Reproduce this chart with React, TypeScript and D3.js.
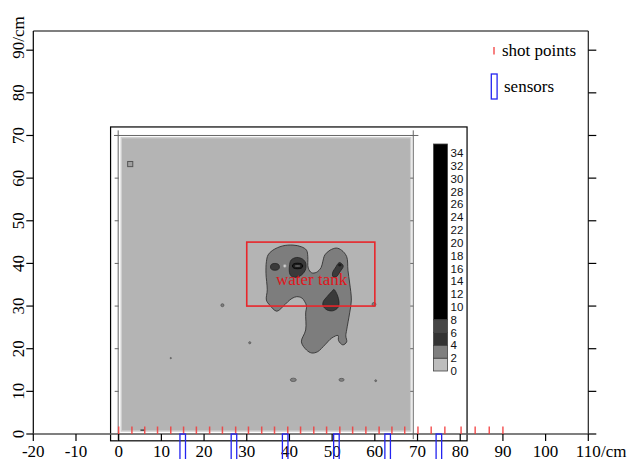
import React from 'react';
import * as d3 from 'd3';

// ---- axis ticks ----
const X_TICKS = [-20, -10, 0, 10, 20, 30, 40, 50, 60, 70, 80, 90, 100, 110];
const Y_TICKS = [0, 10, 20, 30, 40, 50, 60, 70, 80, 90];
const INNER_Y_TICKS = [10, 20, 30, 40, 50, 60, 70];

// ---- survey layout (cm) ----
const SHOT_POINTS = [
  0, 3.1, 6.1, 9.1, 12.2, 15.2, 18.2, 21.3, 24.3, 27.4, 30.4, 33.5, 36.5, 39.6, 42.6,
  45.7, 48.7, 51.8, 54.8, 57.9, 61.0, 64.0, 67.0, 70.1, 73.2, 76.4, 80.2, 83.5, 86.8, 90.0,
];
const SENSORS = [15, 27, 39, 51, 63, 75];
const TANK_X = [30, 60];
const TANK_Y = [30, 45];

// ---- colour bar levels ----
const LEVELS = [0, 2, 4, 6, 8, 35.4];
const LEVEL_COLORS = ['#bdbdbd', '#7f7f7f', '#333333', '#464646', '#000000'];
const COLORBAR_TICKS = [0, 2, 4, 6, 8, 10, 12, 14, 16, 18, 20, 22, 24, 26, 28, 30, 32, 34];

// ---- contour outlines (cm) ----
// level 2 region: the anomaly around the tank
const ANOMALY: [number, number][] = [
  [35.0, 42.0], [34.6, 40.4], [34.5, 37.7], [34.8, 33.8], [34.6, 31.4], [35.4, 30.2],
  [37.0, 28.8], [38.4, 29.8], [39.6, 31.0], [40.6, 31.8], [41.7, 32.2], [42.9, 31.9],
  [43.6, 31.0], [44.0, 30.0], [43.8, 28.4], [43.8, 24.4], [42.8, 21.6], [44.0, 19.7],
  [45.2, 19.0], [46.6, 19.3], [48.3, 20.9], [49.9, 22.5], [51.4, 23.1], [51.5, 21.9],
  [52.5, 20.9], [53.4, 21.6], [53.2, 23.0], [53.4, 24.4], [54.1, 28.4], [54.5, 31.4],
  [54.1, 35.4], [53.7, 38.4], [53.4, 41.6], [52.2, 43.1], [51.0, 43.6], [49.5, 43.1],
  [48.3, 42.0], [47.8, 40.4], [47.4, 39.0], [46.3, 37.9], [45.2, 37.8], [44.4, 38.9],
  [44.3, 41.6], [44.0, 43.1], [42.8, 43.9], [40.8, 44.3], [38.4, 44.1], [36.1, 43.1],
];
// level 4 regions
const CORE_CENTER: [number, number][] = [
  [41.7, 41.4], [43.1, 41.0], [43.8, 40.1], [43.7, 38.4], [42.4, 37.0], [40.8, 36.8],
  [40.1, 37.5], [40.0, 39.4], [40.4, 40.8],
];
const CORE_RIGHT: [number, number][] = [
  [51.8, 40.2], [52.6, 39.4], [51.8, 38.0], [51.0, 36.9], [50.2, 36.9], [50.1, 37.8],
  [50.9, 39.2], [51.4, 40.0],
];
const CORE_DROP: [number, number][] = [
  [50.4, 33.9], [51.2, 32.6], [51.6, 31.0], [51.4, 29.7], [50.2, 28.9], [48.8, 29.1],
  [47.9, 30.0], [47.9, 31.0], [48.8, 32.2], [49.9, 33.4],
];
// small closed contours: [x, y, rx, ry] in cm
const CORE_LEFT = [36.6, 39.2, 1.05, 0.8];
const SPECKLES: number[][] = [
  [24.3, 30.2, 0.35, 0.35],
  [30.7, 21.4, 0.25, 0.25],
  [40.9, 12.7, 0.7, 0.4],
  [52.2, 12.7, 0.6, 0.35],
  [60.2, 12.5, 0.22, 0.22],
  [59.8, 30.4, 0.45, 0.45],
  [12.2, 17.8, 0.15, 0.15],
];

// ---- scales ----
const x = d3.scaleLinear().domain([-20, 110]).range([33.3, 588.3]);
const y = d3.scaleLinear().domain([0, 94.5]).range([434, 31]);
const cb = d3.scaleLinear().domain([0, 35.4]).range([371, 144]);
const k = x(1) - x(0);

const SERIF = "'Liberation Serif', 'Times New Roman', Times, serif";
const SANS = "'Liberation Sans', Arial, Helvetica, sans-serif";

const outline = d3
  .line<[number, number]>()
  .x((d) => x(d[0]))
  .y((d) => y(d[1]))
  .curve(d3.curveCatmullRomClosed.alpha(0.5));

export default function App() {
  const fs = 17;
  return (
    <svg
      width={632}
      height={459}
      style={{ position: 'absolute', left: 0, top: 0, background: '#fff' }}
      fontFamily={SERIF}
    >
      {/* outer frame */}
      <line x1={x(-20)} x2={x(-20)} y1={y(94.5)} y2={y(0)} stroke="#000" strokeWidth={1.2} />
      <line x1={x(-20)} x2={x(110)} y1={y(94.5)} y2={y(94.5)} stroke="#000" strokeWidth={1.2} />
      <line x1={x(110)} x2={x(110)} y1={y(94.5)} y2={y(0)} stroke="#222" strokeWidth={1.2} />

      {/* y ticks, both sides */}
      {Y_TICKS.map((t) => (
        <g key={'y' + t}>
          <line x1={x(-20) - 7} x2={x(-20)} y1={y(t)} y2={y(t)} stroke="#000" strokeWidth={1.2} />
          <line x1={x(110)} x2={x(110) + 8} y1={y(t)} y2={y(t)} stroke="#000" strokeWidth={1.2} />
          <text
            transform={`translate(23.5,${y(t)}) rotate(-90)`}
            textAnchor="middle"
            fontSize={fs}
          >
            {t}
          </text>
        </g>
      ))}
      <text transform={`translate(23.5,${y(90)}) rotate(-90)`} x={8.5} fontSize={fs}>
        /cm
      </text>

      {/* inset contour map */}
      <rect
        x={x(-1.9)}
        y={y(72)}
        width={x(81.6) - x(-1.9)}
        height={y(-1.6) - y(72)}
        fill="#fff"
        stroke="#000"
        strokeWidth={1.2}
      />
      <rect
        x={x(0.6)}
        y={y(69.5)}
        width={x(68.4) - x(0.6)}
        height={y(0.7) - y(69.5)}
        fill="#b4b4b4"
        stroke="#cfcfcf"
        strokeWidth={1.5}
      />
      {/* inset axes */}
      <line x1={x(-1.1)} x2={x(70.2)} y1={y(70)} y2={y(70)} stroke="#666" strokeWidth={1} />
      <line x1={x(0) - 0.5} x2={x(0) - 0.5} y1={y(71.2)} y2={y(-1.6)} stroke="#666" strokeWidth={1} />
      <line x1={x(69)} x2={x(69)} y1={y(71.2)} y2={y(-1.2)} stroke="#666" strokeWidth={1} />
      {INNER_Y_TICKS.map((t) => (
        <g key={'iy' + t}>
          <line x1={x(0) - 4} x2={x(0)} y1={y(t)} y2={y(t)} stroke="#666" strokeWidth={1} />
          <line x1={x(69) - 3} x2={x(69)} y1={y(t)} y2={y(t)} stroke="#666" strokeWidth={1} />
        </g>
      ))}

      {/* contours */}
      <path d={outline(ANOMALY) || ''} fill="#7d7d7d" stroke="#333" strokeWidth={0.9} />
      <ellipse
        cx={x(CORE_LEFT[0])}
        cy={y(CORE_LEFT[1])}
        rx={CORE_LEFT[2] * k}
        ry={CORE_LEFT[3] * k}
        fill="#3a3a3a"
        stroke="#222"
        strokeWidth={0.8}
      />
      <path d={outline(CORE_CENTER) || ''} fill="#3a3a3a" stroke="#222" strokeWidth={0.8} />
      <ellipse cx={x(41.9)} cy={y(39.4)} rx={1.2 * k} ry={0.65 * k} fill="#1c1c1c" stroke="#000" strokeWidth={0.8} />
      <ellipse cx={x(41.9)} cy={y(39.4)} rx={0.7 * k} ry={0.22 * k} fill="#5a5a5a" />
      <circle cx={x(38.9)} cy={y(39.4)} r={0.35 * k} fill="#d0d0d0" stroke="#999" strokeWidth={0.5} />
      <path d={outline(CORE_RIGHT) || ''} fill="#3a3a3a" stroke="#222" strokeWidth={0.8} />
      <ellipse cx={x(51.8)} cy={y(39.6)} rx={0.4 * k} ry={0.3 * k} fill="#1c1c1c" />
      <path d={outline(CORE_DROP) || ''} fill="#3a3a3a" stroke="#222" strokeWidth={0.8} />
      {SPECKLES.map((s, i) => (
        <ellipse
          key={'s' + i}
          cx={x(s[0])}
          cy={y(s[1])}
          rx={s[2] * k}
          ry={s[3] * k}
          fill="#808080"
          stroke="#555"
          strokeWidth={0.8}
        />
      ))}
      <rect
        x={x(2.1)}
        y={y(63.9)}
        width={1.2 * k}
        height={1.2 * k}
        fill="#a0a0a0"
        stroke="#555"
        strokeWidth={1}
      />
      <line x1={x(5.1)} x2={x(6.0)} y1={y(0.9)} y2={y(0.9)} stroke="#444" strokeWidth={1.5} />

      {/* colour bar */}
      {LEVEL_COLORS.map((c, i) => (
        <rect
          key={'cb' + i}
          x={433.5}
          y={cb(LEVELS[i + 1])}
          width={14}
          height={cb(LEVELS[i]) - cb(LEVELS[i + 1])}
          fill={c}
          stroke="#444"
          strokeWidth={0.8}
        />
      ))}
      {COLORBAR_TICKS.map((t) => (
        <text
          key={'cbt' + t}
          x={450.5}
          y={cb(t)}
          dy="0.36em"
          fontSize={11.5}
          fontFamily={SANS}
          fill="#111"
        >
          {t}
        </text>
      ))}

      {/* water tank */}
      <rect
        x={x(TANK_X[0])}
        y={y(TANK_Y[1])}
        width={x(TANK_X[1]) - x(TANK_X[0])}
        height={y(TANK_Y[0]) - y(TANK_Y[1])}
        fill="none"
        stroke="#e8262b"
        strokeWidth={1.6}
      />
      <text x={x(45.2)} y={y(35.0)} textAnchor="middle" fontSize={fs} fill="#e0151b">
        water tank
      </text>

      {/* x axis */}
      <line x1={x(-20)} x2={x(110)} y1={y(0)} y2={y(0)} stroke="#555" strokeWidth={1.6} />
      {X_TICKS.map((t) => (
        <g key={'x' + t}>
          <line x1={x(t)} x2={x(t)} y1={y(0)} y2={y(0) + 7} stroke="#000" strokeWidth={1.2} />
          <text x={x(t)} y={456.5} textAnchor="middle" fontSize={fs}>
            {t}
          </text>
        </g>
      ))}
      <text x={x(110) + 12.75} y={456.5} fontSize={fs}>
        /cm
      </text>

      {/* shot points */}
      {SHOT_POINTS.map((s, i) => (
        <line
          key={'sp' + i}
          x1={x(s)}
          x2={x(s)}
          y1={y(0) - 7.5}
          y2={y(0)}
          stroke="#f23a3a"
          strokeOpacity={0.85}
          strokeWidth={1.5}
        />
      ))}

      {/* sensors */}
      {SENSORS.map((s, i) => (
        <rect
          key={'sn' + i}
          x={x(s - 0.65)}
          y={y(0)}
          width={1.3 * k}
          height={26}
          fill="none"
          stroke="#2424f0"
          strokeWidth={1.3}
        />
      ))}

      {/* legend */}
      <line x1={494} x2={494} y1={47} y2={54.5} stroke="#f23a3a" strokeOpacity={0.85} strokeWidth={1.5} />
      <text x={502} y={55.7} fontSize={fs}>
        shot points
      </text>
      <rect x={491.3} y={74} width={5.8} height={25} fill="none" stroke="#2424f0" strokeWidth={1.3} />
      <text x={504} y={92.3} fontSize={fs}>
        sensors
      </text>
    </svg>
  );
}
